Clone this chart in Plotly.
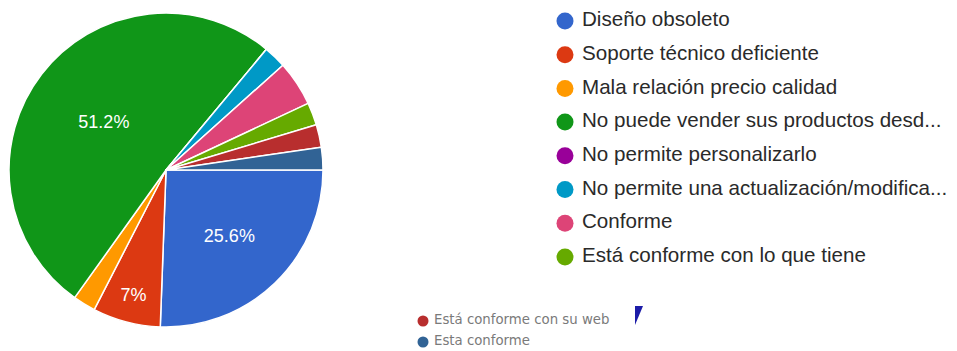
import plotly.graph_objects as go

# Survey answers (count of responses per reason)
categories = [
    "Diseño obsoleto",
    "Soporte técnico deficiente",
    "Mala relación precio calidad",
    "No puede vender sus productos desd...",
    "No permite personalizarlo",
    "No permite una actualización/modifica...",
    "Conforme",
    "Está conforme con lo que tiene",
    "Está conforme con su web",
    "Esta conforme",
]
counts = [11, 3, 1, 22, 0, 1, 2, 1, 1, 1]
colors = [
    "#3366cc", "#dc3912", "#ff9900", "#109618", "#990099",
    "#0099c6", "#dd4477", "#66aa00", "#b82e2e", "#316395",
]

W, H = 957, 351
total = sum(counts)


def pct_label(v):
    p = round(v / total * 100, 1)
    if p < 5:
        return ""
    s = f"{p:.1f}".rstrip("0").rstrip(".")
    return s + "%"


labels_text = [pct_label(v) for v in counts]

fig = go.Figure()

# Pie occupies a square area on the left
px0, px1, py0, py1 = 9, 323, 13, 327
fig.add_trace(go.Pie(
    labels=categories,
    values=counts,
    text=labels_text,
    textinfo="text",
    textposition="inside",
    insidetextorientation="horizontal",
    textfont=dict(family="Liberation Sans, Arial, sans-serif", size=18, color="white"),
    marker=dict(colors=colors, line=dict(color="white", width=1.5)),
    sort=False,
    direction="clockwise",
    rotation=90,
    showlegend=False,
    hoverinfo="label+percent",
    domain=dict(x=[px0 / W, px1 / W], y=[1 - py1 / H, 1 - py0 / H]),
))

# Main legend: first eight categories, circle markers
n_main = 8
row0, step = 21, 33.7
mx, tx = 565, 582
main_y = [row0 + i * step for i in range(n_main)]
fig.add_trace(go.Scatter(
    x=[mx] * n_main, y=main_y, mode="markers",
    marker=dict(size=17, color=colors[:n_main], symbol="circle"),
    hoverinfo="skip", showlegend=False,
))
fig.add_trace(go.Scatter(
    x=[tx] * n_main, y=main_y, mode="text",
    text=categories[:n_main], textposition="middle right",
    textfont=dict(family="Liberation Sans, Arial, sans-serif", size=20.6, color="#2a2a2a"),
    hoverinfo="skip", showlegend=False,
))

# Overflow legend rows, smaller
rest = categories[n_main:]
sm_y = [321 + i * 21 for i in range(len(rest))]
fig.add_trace(go.Scatter(
    x=[423] * len(rest), y=sm_y, mode="markers",
    marker=dict(size=11, color=colors[n_main:], symbol="circle"),
    hoverinfo="skip", showlegend=False,
))
fig.add_trace(go.Scatter(
    x=[434] * len(rest), y=sm_y, mode="text",
    text=rest, textposition="middle right",
    textfont=dict(family="DejaVu Sans, sans-serif", size=13.3, color="#7a7a7a"),
    hoverinfo="skip", showlegend=False,
))

# Page arrow next to the overflow rows
fig.add_shape(
    type="path", xref="x", yref="y",
    path="M 635 306 L 643 306 L 635 325 Z",
    fillcolor="#1c1ca8", line=dict(width=0),
)

fig.update_layout(
    width=W, height=H,
    margin=dict(l=0, r=0, t=0, b=0),
    paper_bgcolor="white", plot_bgcolor="rgba(0,0,0,0)",
    xaxis=dict(range=[0, W], visible=False, fixedrange=True),
    yaxis=dict(range=[H, 0], visible=False, fixedrange=True),
)

fig.write_html("out.html")
